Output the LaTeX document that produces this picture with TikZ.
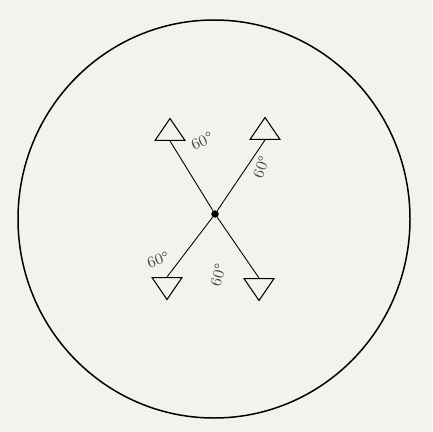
\documentclass[tikz,border=0pt]{standalone}
\usetikzlibrary{shapes.geometric}
\definecolor{paper}{HTML}{F4F2ED}
\definecolor{pencil}{HTML}{4A4A4A}
\begin{document}
\begin{tikzpicture}[
        x=0.02cm, y=-0.02cm,
        hub/.style={circle, fill=black, inner sep=0pt, minimum size=0.15cm},
        headup/.style={draw, isosceles triangle, isosceles triangle stretches, shape border rotate=90, inner sep=0pt, minimum width=0.6cm, minimum height=0.44cm, line width=0.6pt, anchor=south},
        headdown/.style={headup, shape border rotate=270, anchor=north},
        angle/.style={text=pencil, font=\small, inner sep=0pt}
    ]
        \fill[paper] (0,0) rectangle (432,432);
        \useasboundingbox (0,0) rectangle (432,432);
        \draw[line width=0.85pt] (214,219) ellipse [x radius=196, y radius=199];

        \node[hub] (centre) at (215,214) {};
        \node[headup] (nw) at (170,141) {};
        \node[headup] (ne) at (265,140) {};
        \node[headdown] (sw) at (167,277) {};
        \node[headdown] (se) at (259,278) {};

        \node[angle, rotate=25] (anw) at (202,141) {60°};
        \node[angle, rotate=70] (ane) at (261,167) {60°};
        \node[angle, rotate=20] (asw) at (158,260) {60°};
        \node[angle, rotate=75] (ase) at (218,275) {60°};

        \draw[line width=0.5pt] (centre) -- (nw.south);
        \draw[line width=0.5pt] (centre) -- (ne.south);
        \draw[line width=0.5pt] (centre) -- (sw.north);
        \draw[line width=0.5pt] (centre) -- (se.north);
    \end{tikzpicture}
\end{document}
